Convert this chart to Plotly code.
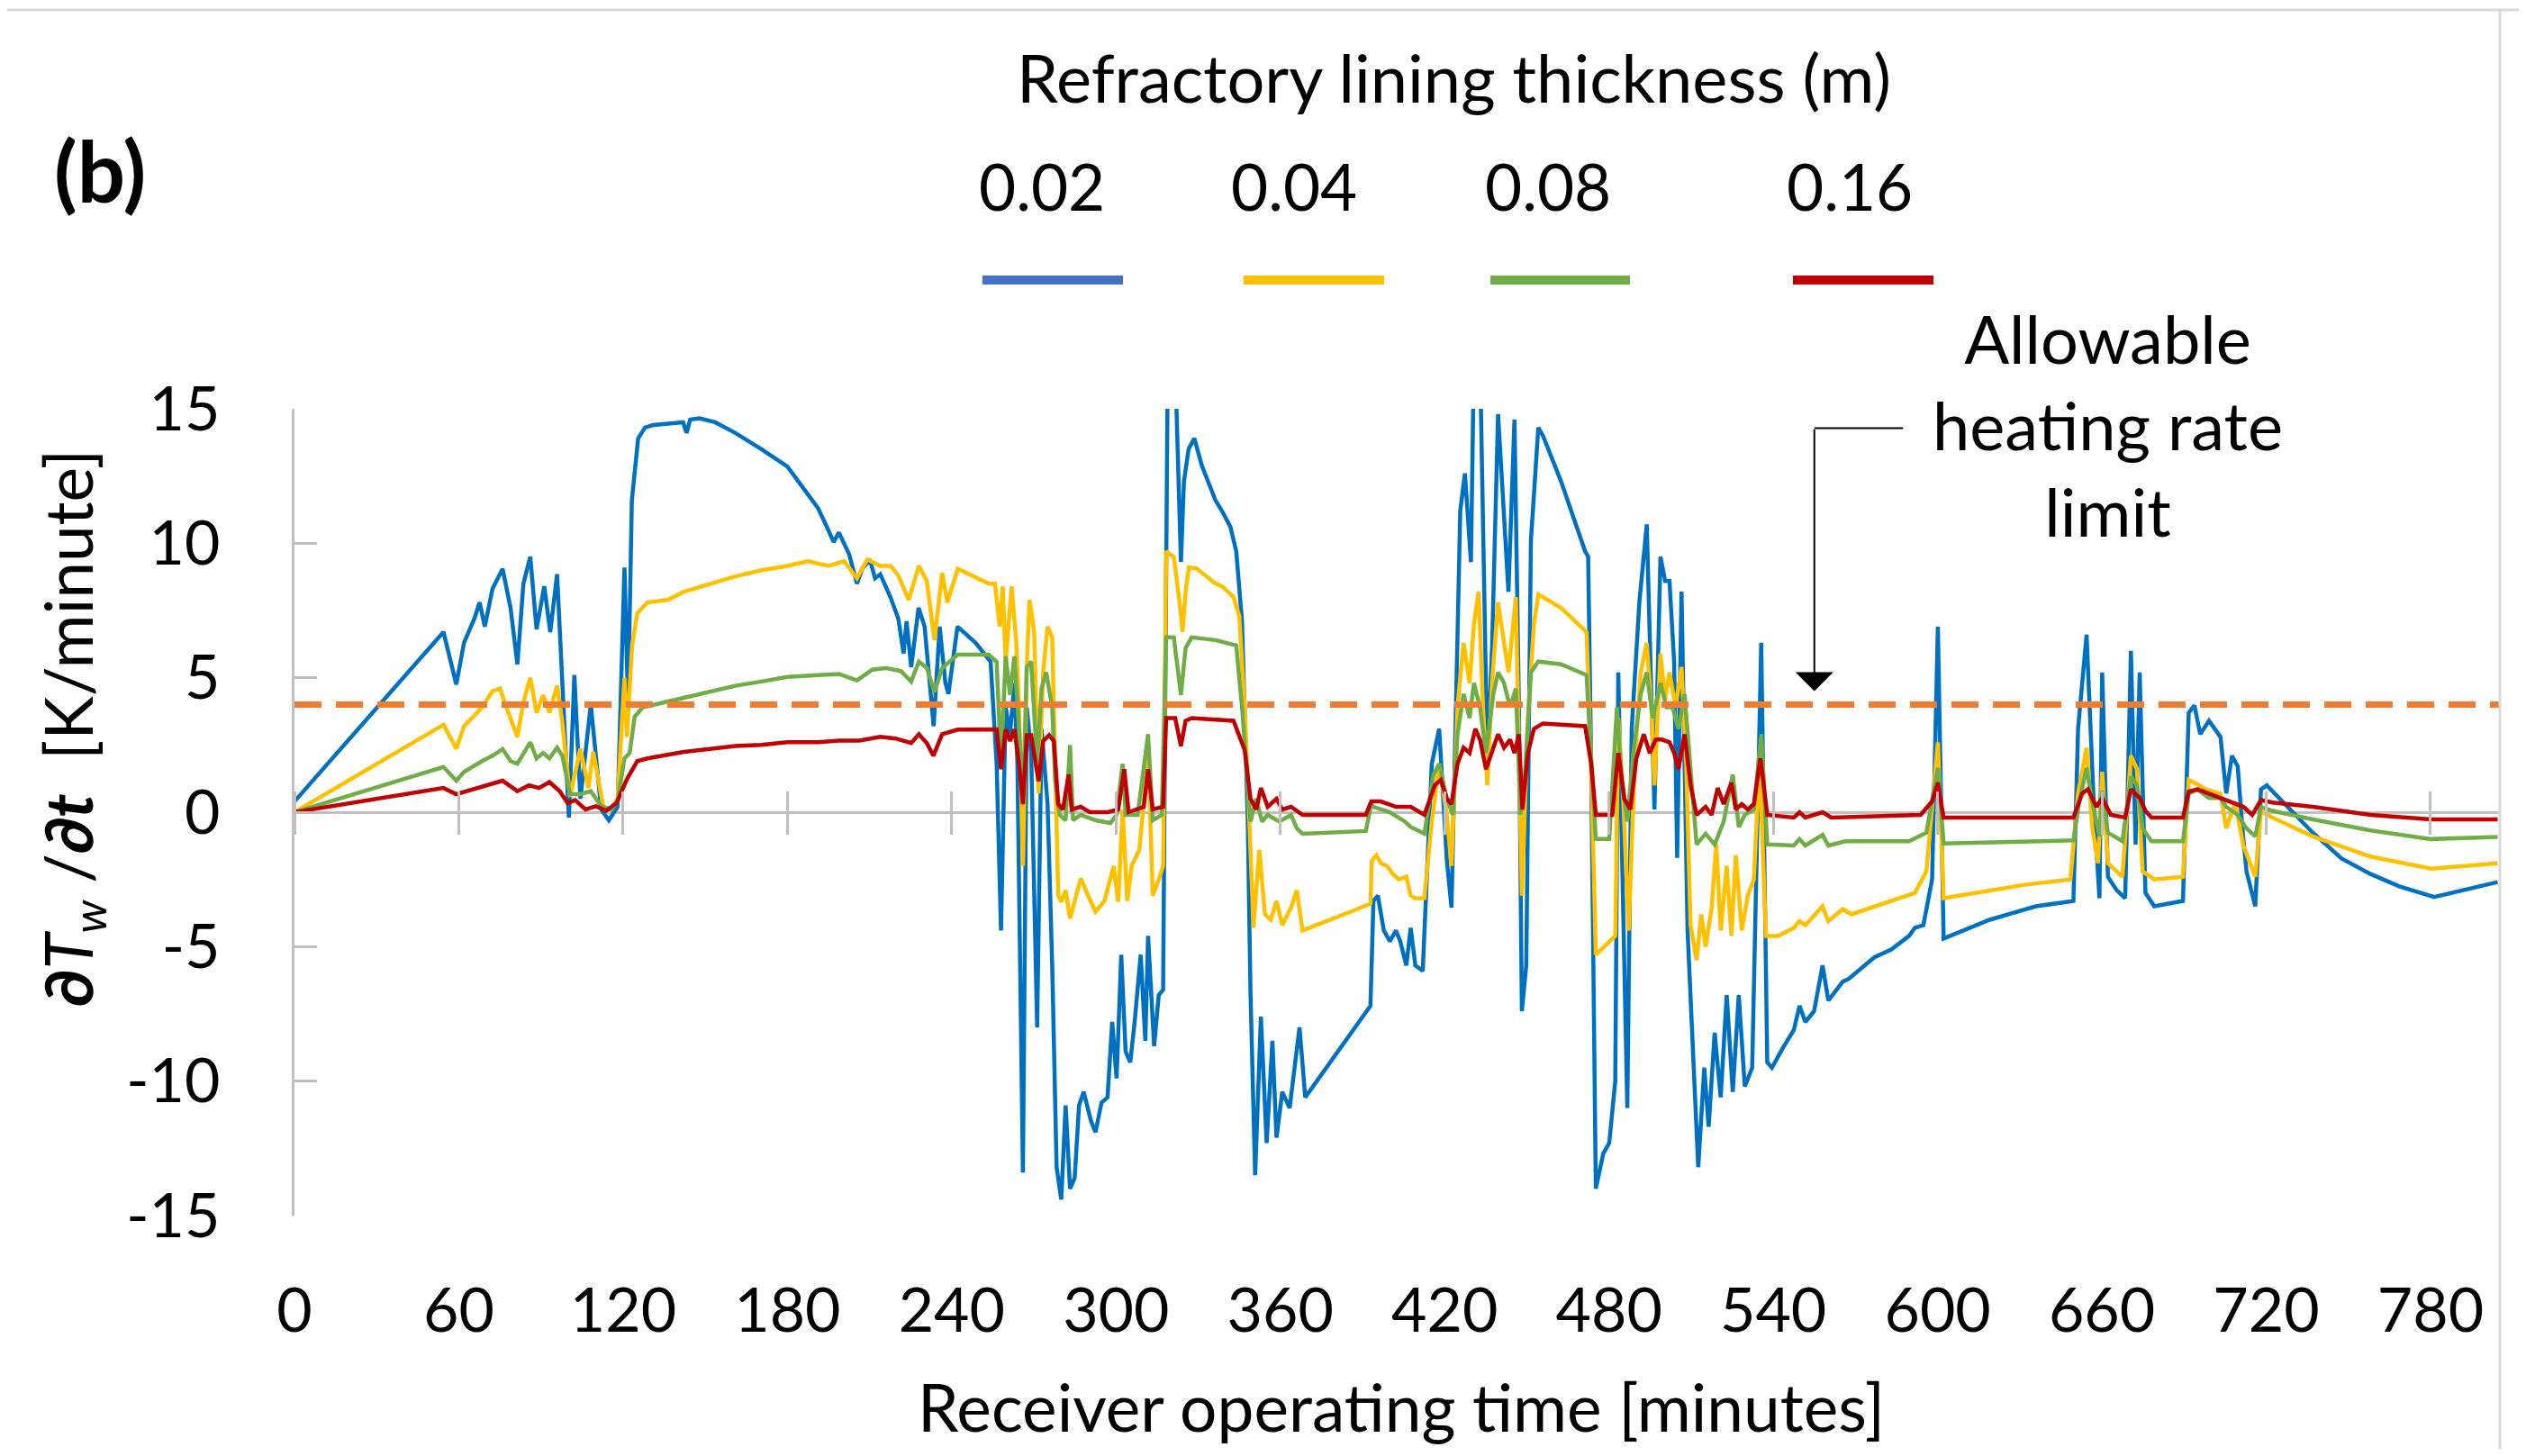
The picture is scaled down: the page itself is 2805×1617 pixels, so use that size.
import plotly.graph_objects as go

# ---------------- data ----------------
thickness_labels = ["0.02", "0.04", "0.08", "0.16"]
line_colors = ["#0070C0", "#FFC000", "#70AD47", "#C00000"]
legend_colors = ["#4472C4", "#FFC000", "#70AD47", "#C00000"]
limit_rate = 4
x_ticks = [0, 60, 120, 180, 240, 300, 360, 420, 480, 540, 600, 660, 720, 780]
y_ticks = [-15, -10, -5, 0, 5, 10, 15]
x_end = 805

t_002 = [0, 54.4, 59.1, 61.9, 65.7, 67.6, 69.5, 72.3, 76.0, 78.9, 81.4, 83.6, 86.1, 88.4, 91.2, 93.4, 95.9, 98.3,
         100.2, 102.2, 104.4, 108.2, 112.0, 114.8, 118.0, 120.5, 121.8, 123.2, 125.5, 128.0, 131.0, 136.6, 141.9,
         143.2, 144.5, 147.9, 153.6, 161.0, 170.5, 180.0, 185.6, 191.2, 194.0, 196.9, 198.8, 202.5, 205.4, 207.3,
         210.1, 212.0, 213.9, 217.6, 220.5, 222.4, 223.5, 225.2, 227.9, 230.1, 233.4, 235.6, 237.7, 238.8, 242.1,
         248.7, 254.2, 256.4, 258.0, 259.7, 261.3, 262.9, 264.0, 266.0, 267.4, 269.0, 271.2, 272.8, 275.0, 276.7,
         278.3, 280.0, 281.6, 283.2, 284.9, 286.5, 288.2, 290.9, 292.5, 294.7, 296.9, 298.6, 300.2, 301.9, 303.5,
         305.2, 306.8, 309.0, 310.7, 311.7, 313.9, 315.6, 317.2, 317.8, 318.9, 321.5, 323.7, 324.8, 326.5, 328.6,
         331.3, 336.3, 338.7, 341.8, 343.9, 346.0, 348.1, 349.1, 350.8, 352.9, 355.0, 357.1, 358.6, 360.7, 363.4,
         367.0, 369.1, 392.9, 394.0, 395.6, 397.8, 400.0, 402.2, 403.8, 406.0, 407.6, 409.3, 412.0, 415.3, 418.0,
         420.8, 422.5, 424.7, 425.7, 427.4, 429.6, 430.7, 432.9, 435.6, 437.3, 439.5, 443.3, 445.5, 447.1, 448.2,
         449.8, 451.5, 454.2, 455.9, 462.5, 466.9, 471.3, 472.4, 473.5, 475.2, 477.9, 480.1, 482.3, 483.4, 485.0,
         486.7, 488.3, 491.1, 493.8, 496.6, 498.8, 500.5, 502.1, 503.8, 504.9, 506.5, 508.7, 512.6, 514.8, 516.4,
         518.6, 520.8, 523.0, 525.2, 527.4, 529.6, 532.3, 534.0, 535.6, 537.8, 539.5, 543.3, 547.5, 549.6, 551.7,
         554.9, 558.0, 560.1, 565.4, 567.5, 576.9, 583.2, 589.6, 591.7, 594.8, 598.0, 600.1, 602.2, 619.0, 635.9,
         649.6, 651.3, 654.4, 657.0, 659.1, 660.1, 662.2, 665.4, 668.5, 670.6, 672.3, 673.8, 675.9, 679.1, 689.6,
         691.7, 693.8, 695.9, 699.1, 703.3, 705.4, 707.5, 709.6, 711.3, 712.8, 716.0, 718.1, 720.2, 737.0, 747.5,
         758.1, 768.6, 779.2, 781.3, 804.5]
y_002 = [0.4, 6.7, 4.75, 6.3, 7.2, 7.8, 6.9, 8.3, 9.05, 7.6, 5.5, 8.5, 9.5, 6.8, 8.4, 6.7, 8.85, 3.9,
         -0.2, 5.1, 0.5, 4.0, 0.1, -0.3, 0.2, 9.1, 4.0, 11.6, 13.9, 14.3, 14.4, 14.45, 14.5,
         14.1, 14.6, 14.65, 14.5, 14.1, 13.5, 12.85, 12.1, 11.3, 10.7, 10.05, 10.4, 9.6, 8.5, 9.05,
         9.4, 8.7, 8.85, 8.0, 7.2, 5.9, 7.1, 5.4, 7.6, 6.9, 3.2, 6.9, 4.8, 4.4, 6.9,
         6.3, 5.6, 1.8, -4.4, 3.9, 2.9, 4.8, 1.8, -13.4, 3.9, 2.2, -8.0, 3.1, 0.3, -5.7,
         -13.2, -14.4, -10.9, -14.0, -13.6, -10.9, -10.4, -11.5, -11.9, -10.8, -10.6, -7.8, -9.9, -5.3, -8.9,
         -9.3, -7.8, -5.3, -8.5, -4.6, -8.7, -6.8, -6.6, 3.9, 17.0, 17.0, 9.3, 12.3, 13.5, 13.9,
         12.9, 11.6, 11.2, 10.6, 9.7, 7.1, -0.3, -6.7, -13.5, -7.6, -12.3, -8.5, -12.1, -10.4, -11.0,
         -8.0, -10.6, -7.2, -3.3, -3.1, -4.4, -4.8, -4.4, -4.8, -5.7, -4.3, -5.7, -5.9, 1.8, 3.1,
         -1.8, -3.55, 6.5, 11.2, 12.6, 9.3, 17.0, 17.0, 1.8, 6.1, 14.8, 8.2, 14.6, 4.0, -7.4,
         -5.7, 10.1, 14.3, 14.0, 12.3, 11.0, 9.7, 9.5, 1.8, -14.0, -12.7, -12.3, -10.0, 5.2, -3.55,
         -11.0, 3.1, 7.8, 10.7, 0.1, 9.5, 8.6, 8.6, 5.6, -1.7, 8.2, -4.4, -13.2, -9.5, -11.7,
         -8.2, -10.6, -6.8, -10.4, -6.8, -10.2, -9.5, -0.35, 6.3, -9.3, -9.5, -8.8, -8.1, -7.2, -7.8,
         -7.4, -5.7, -7.0, -6.3, -6.2, -5.4, -5.1, -4.6, -4.3, -4.2, -2.5, 6.9, -4.7, -4.0, -3.5,
         -3.3, 3.1, 6.6, 0.4, -3.2, 5.2, -2.4, -2.9, -3.2, 6.0, -1.2, 5.2, -3.0, -3.5, -3.3,
         3.7, 3.97, 2.9, 3.4, 2.8, 0.7, 2.1, 1.7, -0.6, -2.2, -3.5, 0.85, 1.0, -0.76, -1.72,
         -2.3, -2.76, -3.1, -3.15, -2.6]

t_004 = [0, 54.4, 59.1, 61.9, 65.7, 68.5, 72.3, 75.1, 77.0, 81.4, 83.6, 86.1, 88.4, 90.8, 93.1, 95.9, 97.8,
         100.6, 104.4, 107.3, 109.1, 112.9, 115.7, 118.0, 120.5, 121.4, 123.3, 125.2, 128.9, 136.5, 142.2, 151.6,
         161.0, 170.5, 180.0, 187.5, 195.0, 200.7, 205.4, 209.2, 213.9, 217.6, 220.5, 224.3, 228.0, 230.9, 233.7,
         236.5, 238.4, 242.2, 253.5, 255.8, 257.5, 258.6, 259.7, 261.9, 263.5, 264.6, 266.0, 267.4, 268.4, 270.1,
         271.7, 273.4, 275.0, 276.7, 277.8, 278.9, 280.0, 281.6, 283.2, 284.9, 287.1, 289.8, 292.5, 295.8, 299.1,
         300.8, 302.4, 304.1, 305.7, 308.5, 310.1, 311.7, 313.4, 315.6, 317.2, 318.3, 321.1, 323.2, 324.3, 325.4,
         326.6, 329.3, 336.3, 338.7, 342.9, 345.0, 347.0, 349.1, 350.2, 352.3, 354.4, 356.5, 358.6, 360.7, 363.9,
         366.0, 368.1, 385.7, 392.9, 393.4, 395.1, 396.7, 398.9, 401.1, 403.3, 406.0, 407.6, 409.3, 412.6, 415.3,
         418.0, 420.8, 422.5, 424.7, 426.9, 429.1, 430.7, 432.4, 434.0, 435.6, 437.3, 439.5, 441.1, 443.3, 446.0,
         447.7, 448.2, 450.4, 452.6, 454.2, 462.5, 471.8, 473.5, 475.2, 480.1, 482.3, 483.4, 485.0, 487.2, 489.4,
         491.6, 493.8, 495.5, 496.6, 498.8, 500.5, 502.1, 504.3, 506.5, 508.2, 509.8, 512.0, 513.7, 515.3, 517.5,
         519.2, 520.8, 523.0, 524.7, 526.3, 528.5, 530.7, 532.9, 535.0, 537.3, 541.7, 547.5, 549.6, 551.7, 558.0,
         560.1, 565.4, 568.5, 585.3, 591.7, 595.9, 600.1, 602.2, 631.8, 648.5, 651.3, 654.4, 656.5, 658.6, 660.1,
         662.2, 667.5, 670.6, 672.8, 674.9, 679.1, 689.6, 691.7, 694.9, 698.0, 703.3, 705.4, 708.6, 711.7, 716.0,
         718.1, 720.2, 737.0, 758.1, 780.2, 804.5]
y_004 = [0.0, 3.25, 2.36, 3.2, 3.6, 3.9, 4.5, 4.6, 4.0, 2.8, 4.1, 5.0, 3.7, 4.35, 3.7, 4.7, 3.35,
         0.57, 2.36, 0.9, 2.25, 0.13, 0.13, 0.5, 5.0, 2.8, 6.2, 7.4, 7.8, 7.9, 8.2, 8.5,
         8.77, 9.0, 9.16, 9.33, 9.16, 9.33, 8.7, 9.4, 9.16, 9.16, 8.8, 7.9, 9.16, 8.6, 6.4,
         8.9, 7.8, 9.05, 8.5, 8.5, 6.9, 8.4, 5.6, 8.4, 6.4, 3.9, -2.0, 5.4, 7.9, 6.7,
         0.7, 5.2, 6.9, 6.5, 1.8, -3.1, -3.33, -2.9, -3.96, -3.33, -2.46, -3.1, -3.7, -3.3, -2.0,
         -3.33, 0.1, -3.3, -2.0, -1.4, 0.3, 2.46, -3.1, -2.5, -2.0, 9.7, 9.5, 7.8, 6.7, 8.2,
         9.1, 9.07, 8.5, 8.4, 8.0, 7.3, 3.9, -1.4, -4.3, -1.4, -3.8, -4.0, -3.3, -4.2, -3.55,
         -2.9, -4.4, -3.7, -3.4, -1.8, -1.6, -1.9, -2.0, -2.3, -2.5, -2.4, -3.1, -3.2, -3.2, -0.35,
         1.8, -0.1, -2.0, 3.9, 6.3, 4.8, 7.0, 8.2, 3.9, 1.0, 4.8, 7.8, 6.7, 5.2, 8.0,
         0.5, -3.1, 3.5, 7.0, 8.1, 7.6, 6.7, 1.8, -5.3, -4.8, -4.6, 3.5, 1.0, -4.4, 1.8,
         5.2, 6.3, 3.9, 1.0, 5.9, 4.2, 5.2, 3.9, 5.4, 1.8, -4.2, -5.5, -3.8, -5.0, -3.55,
         -1.2, -4.4, -2.0, -4.6, -1.6, -4.4, -3.1, -2.5, 2.0, -4.6, -4.6, -4.3, -4.05, -4.2, -3.5,
         -4.05, -3.6, -3.8, -3.2, -3.0, -2.2, 2.6, -3.2, -2.7, -2.5, 0.7, 2.4, -0.6, -1.9, 1.5,
         -1.9, -2.4, 2.1, 1.6, -2.2, -2.5, -2.4, 1.2, 1.04, 0.85, 0.69, -0.6, 0.36, -1.24, -2.4,
         0.05, -0.1, -0.9, -1.65, -2.1, -1.9]

t_008 = [0, 54.4, 59.1, 61.9, 68.5, 72.3, 76.0, 78.9, 81.4, 83.6, 86.1, 88.4, 90.8, 93.1, 95.9, 97.8, 100.6,
         104.4, 108.2, 112.0, 115.7, 118.0, 120.5, 122.4, 124.2, 127.2, 134.6, 142.2, 151.6, 161.0, 170.5, 180.0,
         191.3, 198.8, 205.4, 211.0, 215.8, 221.4, 225.2, 228.0, 230.9, 233.7, 236.5, 242.2, 253.5, 256.4, 258.0,
         259.7, 261.3, 262.9, 264.6, 266.0, 267.4, 269.0, 271.2, 272.8, 274.5, 276.7, 277.8, 279.4, 281.6, 283.2,
         284.3, 287.1, 292.5, 298.0, 300.2, 302.4, 303.5, 307.9, 311.7, 313.4, 316.7, 318.3, 321.1, 323.7, 325.4,
         327.6, 336.3, 343.9, 346.0, 349.1, 351.2, 353.3, 355.4, 359.6, 363.9, 366.0, 368.1, 391.2, 393.2, 394.0,
         400.0, 405.5, 407.6, 412.6, 415.9, 418.0, 420.8, 423.0, 424.7, 426.9, 429.1, 430.7, 432.9, 435.1, 437.8,
         439.5, 441.7, 443.9, 446.0, 447.7, 449.3, 451.5, 454.2, 462.5, 471.8, 473.5, 475.2, 480.1, 482.9, 484.5,
         486.7, 488.9, 491.6, 493.8, 496.0, 498.8, 501.0, 503.2, 505.4, 507.6, 509.8, 512.0, 515.3, 518.6, 521.9,
         525.2, 527.4, 529.6, 532.9, 535.6, 537.8, 547.5, 549.6, 551.7, 558.0, 560.1, 566.4, 589.6, 595.9, 600.1,
         602.2, 631.8, 649.6, 651.7, 654.4, 656.5, 659.1, 660.1, 662.2, 667.5, 670.6, 672.8, 674.9, 678.1, 689.6,
         691.7, 694.9, 699.1, 703.3, 705.4, 709.6, 712.8, 716.0, 718.1, 722.3, 737.0, 758.1, 780.2, 804.5]
y_008 = [0.0, 1.68, 1.17, 1.5, 1.9, 2.1, 2.35, 1.9, 1.8, 2.2, 2.6, 2.0, 2.2, 2.0, 2.4, 2.1, 0.67,
         0.67, 0.78, 0.22, 0.1, 0.4, 2.0, 2.2, 3.55, 3.9, 4.07, 4.24, 4.47, 4.7, 4.86, 5.03,
         5.1, 5.14, 4.9, 5.3, 5.36, 5.25, 4.86, 5.6, 5.36, 4.47, 5.36, 5.86, 5.86, 5.6, 1.8,
         5.8, 4.36, 5.8, 3.1, 0.3, 5.4, 5.6, 1.8, 4.6, 5.2, 3.9, 1.15, -0.1, -0.3, 2.5,
         -0.3, -0.1, -0.3, -0.4, -0.1, 1.8, -0.1, -0.1, 2.9, -0.3, -0.1, 6.5, 6.5, 4.36, 6.1,
         6.5, 6.4, 6.2, 3.9, -0.35, 0.5, -0.35, -0.1, -0.35, -0.1, -0.6, -0.8, -0.7, 0.3, 0.2,
         0.0, -0.35, -0.55, -0.8, 1.4, 1.8, 0.5, -0.1, 2.9, 4.4, 3.5, 4.8, 3.9, 2.2, 4.4,
         5.2, 4.8, 3.9, 4.6, -0.1, 1.4, 5.2, 5.6, 5.5, 5.1, 1.8, -1.0, -1.0, 3.9, 1.4,
         -0.35, 2.2, 4.4, 5.2, 3.5, 4.8, 3.9, 3.9, 3.1, 4.4, 1.6, -1.2, -0.8, -1.2, -0.35,
         1.4, -0.55, -0.1, 0.1, 2.9, -1.2, -1.24, -1.0, -1.24, -0.84, -1.24, -1.08, -1.08, -0.76, 1.65,
         -1.16, -1.08, -1.05, 0.37, 1.65, 0.37, -0.9, 0.8, -0.76, -1.08, 1.33, 1.0, -0.6, -1.08, -1.08,
         0.69, 0.85, 0.53, 0.53, 0.2, -0.1, -0.6, -0.9, 0.2, 0.05, -0.27, -0.68, -1.0, -0.92]

t_016 = [0, 54.4, 59.1, 66.6, 76.0, 81.4, 85.6, 89.3, 93.1, 96.9, 99.7, 102.5, 106.3, 110.1, 113.8, 117.6,
         121.4, 125.2, 128.9, 142.2, 151.6, 161.0, 170.5, 180.0, 191.3, 198.8, 206.3, 213.9, 219.5, 225.2, 228.0,
         230.9, 233.3, 236.5, 242.2, 253.5, 256.4, 258.0, 259.7, 261.3, 262.9, 264.6, 266.0, 267.4, 269.0, 271.7,
         273.4, 275.6, 277.3, 278.9, 280.6, 282.7, 283.8, 287.1, 290.4, 297.0, 300.8, 303.0, 304.6, 310.1, 311.7,
         313.4, 317.2, 318.3, 321.6, 323.7, 325.4, 327.6, 342.9, 347.0, 349.1, 351.2, 352.9, 355.4, 358.6, 360.7,
         363.9, 368.1, 391.2, 393.2, 396.7, 402.2, 407.6, 412.6, 416.4, 418.6, 420.8, 422.5, 424.7, 426.9, 429.1,
         431.2, 432.9, 435.1, 437.3, 439.5, 441.7, 443.9, 445.5, 447.1, 448.4, 450.4, 452.6, 455.9, 471.3, 473.5,
         475.2, 481.2, 483.4, 485.6, 487.8, 490.0, 492.7, 494.9, 497.1, 499.3, 502.1, 503.8, 505.4, 507.6, 509.8,
         512.0, 515.3, 517.5, 519.7, 521.9, 524.7, 526.3, 528.5, 530.7, 532.9, 535.3, 537.8, 547.5, 549.6, 551.7,
         558.0, 561.2, 593.8, 598.0, 600.1, 602.2, 649.6, 652.8, 654.9, 658.0, 660.1, 663.3, 668.5, 670.6, 673.8,
         675.9, 678.1, 689.6, 691.7, 694.9, 699.1, 703.3, 707.5, 711.7, 714.9, 718.1, 722.3, 737.0, 758.1, 780.2,
         804.5]
y_016 = [0.0, 0.9, 0.67, 0.9, 1.17, 0.78, 1.0, 0.9, 1.12, 0.78, 0.34, 0.45, 0.1, 0.22, 0.05, 0.34,
         1.23, 1.9, 2.0, 2.24, 2.35, 2.46, 2.5, 2.6, 2.6, 2.66, 2.66, 2.8, 2.74, 2.57, 2.9,
         2.57, 2.1, 2.9, 3.07, 3.07, 3.08, 1.6, 3.08, 2.65, 3.08, 1.8, 0.3, 2.86, 2.86, 1.15,
         2.65, 2.86, 2.65, 0.3, 0.1, 1.4, 0.1, 0.2, 0.0, 0.0, 0.1, 1.6, 0.0, 0.2, 1.6,
         0.1, 0.2, 3.5, 3.5, 2.46, 3.4, 3.5, 3.4, 2.3, 0.5, 0.1, 0.9, 0.2, 0.5, 0.1,
         0.2, -0.1, -0.1, 0.4, 0.4, 0.2, 0.2, -0.1, 1.0, 1.2, 0.5, 0.3, 1.8, 2.4, 2.2,
         3.1, 2.7, 1.6, 2.2, 2.9, 2.4, 2.7, 2.2, 2.9, 0.1, 2.2, 3.1, 3.3, 3.2, 1.8,
         -0.1, -0.1, 2.2, 0.5, 0.1, 2.0, 2.9, 2.2, 2.7, 2.7, 2.6, 2.2, 1.6, 2.9, 1.0,
         -0.1, 0.2, -0.1, 0.9, 0.3, 1.1, 0.1, 0.3, 0.1, 0.3, 2.0, -0.1, -0.2, 0.0, -0.2,
         0.0, -0.2, -0.1, 0.4, 1.1, -0.2, -0.2, 0.7, 0.85, 0.2, 0.53, -0.1, -0.2, 0.85, 0.53,
         0.05, -0.2, -0.2, 0.77, 0.85, 0.69, 0.53, 0.36, 0.2, -0.1, 0.45, 0.36, 0.2, -0.1, -0.27,
         -0.27]

series_t = [t_002, t_004, t_008, t_016]
series_y = [y_002, y_004, y_008, y_016]

# ---------------- figure ----------------
FONT = "Lato, 'Open Sans', sans-serif"
AX_GRAY = "#BFBFBF"
PAGE_W, PAGE_H = 2805, 1617
BODY = 8                      # default body margin of the html page
W, H = PAGE_W - 2 * BODY, PAGE_H - 2 * BODY
# plot area in page pixels
P_LEFT, P_RIGHT, P_TOP, P_BOTTOM = 327, 2775, 454, 1350
ML = P_LEFT - BODY
MR = (BODY + W) - P_RIGHT
MT = P_TOP - BODY
MB = (BODY + H) - P_BOTTOM
plot_w = P_RIGHT - P_LEFT
plot_h = P_BOTTOM - P_TOP


def px_x(px):
    return (px - P_LEFT) / plot_w


def px_y(py):
    return (P_BOTTOM - py) / plot_h


fig = go.Figure()
for name, tt, yy, col in zip(thickness_labels, series_t, series_y, line_colors):
    fig.add_trace(go.Scatter(x=tt, y=yy, mode="lines", name=name,
                             line=dict(color=col, width=4.5), showlegend=False))

# allowable heating-rate limit (on the overlay axis: drawn on top, and that axis carries the cross ticks)
fig.add_trace(go.Scatter(x=[0, x_end], y=[limit_rate, limit_rate], mode="lines",
                         name="Allowable heating rate limit", xaxis="x2",
                         line=dict(color="#ED7D31", width=7, dash="30px,16px"),
                         showlegend=False))

fig.update_layout(
    width=W, height=H,
    margin=dict(l=ML, r=MR, t=MT, b=MB, autoexpand=False),
    paper_bgcolor="white", plot_bgcolor="white",
    font=dict(family=FONT, color="black", size=68),
    showlegend=False,
    xaxis=dict(range=[0, x_end], tickvals=x_ticks, ticktext=[str(v) for v in x_ticks],
               showline=False, ticks="", showgrid=False, zeroline=False,
               tickfont=dict(size=68, family=FONT, color="black"), ticklabelstandoff=60),
    xaxis2=dict(range=[0, x_end], overlaying="x", anchor="free", position=0.5 + 24 / plot_h,
                side="bottom", tickvals=x_ticks, showticklabels=False, ticks="outside",
                ticklen=48, tickwidth=3, tickcolor=AX_GRAY, showline=False, showgrid=False,
                zeroline=False),
    yaxis=dict(range=[-15, 15], tickvals=y_ticks, ticktext=[str(v) for v in y_ticks],
               showline=True, linecolor=AX_GRAY, linewidth=3, ticks="inside", ticklen=25,
               tickwidth=3, tickcolor=AX_GRAY, showgrid=False, zeroline=True,
               zerolinecolor=AX_GRAY, zerolinewidth=3,
               tickfont=dict(size=68, family=FONT, color="black"), ticklabelstandoff=66),
)

annotations = []
# panel label
annotations.append(dict(text="<b>(b)</b>", x=px_x(111), y=px_y(188), xref="paper", yref="paper",
                        showarrow=False, xanchor="center", yanchor="middle",
                        font=dict(size=94, family=FONT, color="black")))
# legend title and labels
annotations.append(dict(text="Refractory lining thickness (m)", x=px_x(1614), y=px_y(86),
                        xref="paper", yref="paper", showarrow=False, xanchor="center",
                        yanchor="middle", font=dict(size=74, family=FONT, color="black")))
label_px = [1157, 1437, 1719, 2054]
line_px = [(1091, 1247), (1381, 1537), (1655, 1810), (1991, 2147)]
for lab, lx in zip(thickness_labels, label_px):
    annotations.append(dict(text=lab, x=px_x(lx), y=px_y(206), xref="paper", yref="paper",
                            showarrow=False, xanchor="center", yanchor="middle",
                            font=dict(size=71, family=FONT, color="black")))
# heating-rate limit callout
annotations.append(dict(text="Allowable<br>heating rate<br>limit", x=662, y=14.4, xref="x", yref="y",
                        showarrow=False, xanchor="center", yanchor="middle", align="center",
                        font=dict(size=74, family=FONT, color="black")))
annotations.append(dict(text="", x=555, y=4.5, xref="x", yref="y", ax=555, ay=14.28,
                        axref="x", ayref="y", showarrow=True, arrowhead=1, arrowsize=3.5,
                        arrowwidth=2, arrowcolor="black", standoff=0, startstandoff=0))
# axis titles
annotations.append(dict(text="<b>∂</b><i>T<sub>w</sub></i> /<b><i>∂t</i></b>  [K/minute]",
                        x=px_x(80), y=px_y(809), xref="paper", yref="paper", showarrow=False,
                        textangle=-90, xanchor="center", yanchor="middle",
                        font=dict(size=73, family=FONT, color="black")))
annotations.append(dict(text="Receiver operating time [minutes]", x=px_x(1556), y=px_y(1562),
                        xref="paper", yref="paper", showarrow=False, xanchor="center",
                        yanchor="middle", font=dict(size=73, family=FONT, color="black")))
fig.update_layout(annotations=annotations)

shapes = []
for (x0, x1), col in zip(line_px, legend_colors):
    shapes.append(dict(type="line", xref="paper", yref="paper", x0=px_x(x0), x1=px_x(x1),
                       y0=px_y(311), y1=px_y(311), line=dict(color=col, width=10)))
# callout elbow
shapes.append(dict(type="line", xref="x", yref="y", x0=555, x1=587.4, y0=14.28, y1=14.28,
                   line=dict(color="black", width=2)))
# chart frame (top and right edges visible in reference)
shapes.append(dict(type="line", xref="paper", yref="paper", x0=px_x(BODY), x1=px_x(BODY + W),
                   y0=px_y(11), y1=px_y(11), line=dict(color="#D9D9D9", width=3)))
shapes.append(dict(type="line", xref="paper", yref="paper", x0=px_x(2776), x1=px_x(2776),
                   y0=px_y(11), y1=px_y(BODY + H), line=dict(color="#D9D9D9", width=3)))
fig.update_layout(shapes=shapes)

fig.write_html("out.html", config={"displayModeBar": False})
